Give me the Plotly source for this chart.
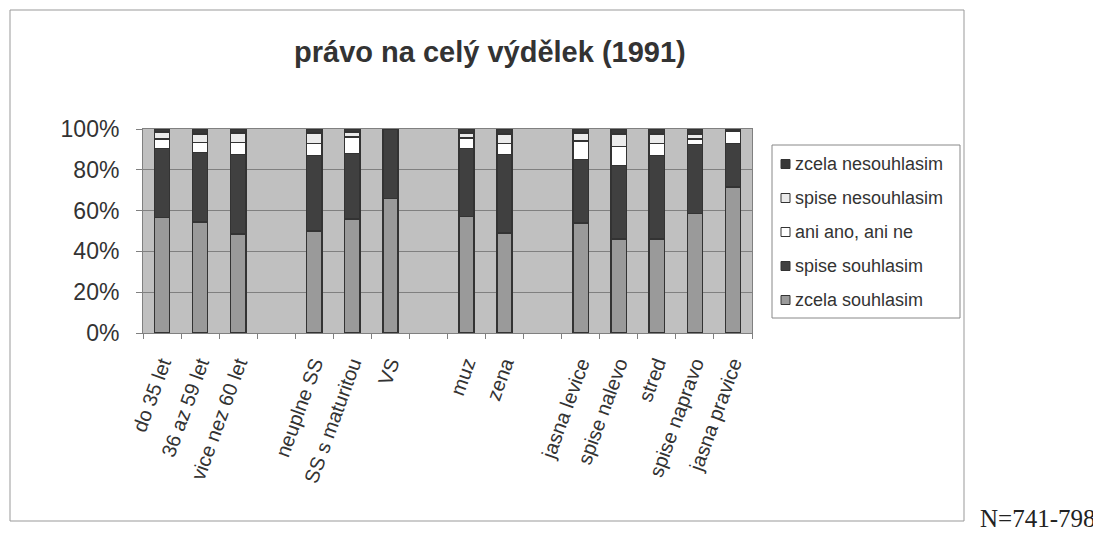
import plotly.graph_objects as go

categories = ["do 35 let", "36 az 59 let", "vice nez 60 let", " ",
              "neuplne SS", "SS s maturitou", "VS", "  ",
              "muz", "zena", "   ",
              "jasna levice", "spise nalevo", "stred", "spise napravo", "jasna pravice"]

zcela_souhlasim    = [56.5, 54.5, 48.5, None, 50.0, 56.0, 66.0, None, 57.0, 49.0, None, 54.0, 46.0, 46.0, 58.5, 71.5]
spise_souhlasim    = [34.0, 34.0, 39.0, None, 37.0, 32.0, 34.0, None, 33.5, 38.5, None, 31.0, 36.0, 41.0, 34.0, 21.5]
ani_ano_ani_ne     = [4.5, 5.0, 6.0, None, 6.0, 8.0, 0.0, None, 5.0, 5.5, None, 9.0, 9.5, 6.0, 2.5, 6.0]
spise_nesouhlasim  = [3.5, 4.0, 4.5, None, 5.0, 2.5, 0.0, None, 2.5, 4.5, None, 4.0, 6.0, 4.5, 2.5, 0.5]
zcela_nesouhlasim  = [1.5, 2.5, 2.0, None, 2.0, 1.5, 0.0, None, 2.0, 2.5, None, 2.0, 2.5, 2.5, 2.5, 0.5]

series_names = ["zcela souhlasim", "spise souhlasim", "ani ano, ani ne",
                "spise nesouhlasim", "zcela nesouhlasim"]
series_values = [zcela_souhlasim, spise_souhlasim, ani_ano_ani_ne,
                 spise_nesouhlasim, zcela_nesouhlasim]
series_colors = ["#9a9a9a", "#404040", "#ffffff", "#ebebeb", "#383838"]

y_ticks = [0, 20, 40, 60, 80, 100]
y_labels = ["0%", "20%", "40%", "60%", "80%", "100%"]

title_text = "právo na celý výdělek (1991)"
note_text = "N=741-798"

fig = go.Figure()
for name, vals, col in zip(series_names, series_values, series_colors):
    fig.add_trace(go.Bar(
        x=categories, y=vals, name=name, width=0.4,
        marker=dict(color=col, line=dict(color="#333333", width=1.5)),
        showlegend=False,
    ))

# page geometry (reference pixel coordinates); the page body has an 8px margin
OFF = 8
W, H = 1101, 533
L, R, T, B = 143, 752, 129, 333
pw, ph = R - L, B - T

def px(x):
    return (x - L) / pw

def py(y):
    return (B - y) / ph

shapes = [
    dict(type="rect", xref="paper", yref="paper",
         x0=px(10), x1=px(964), y0=py(521), y1=py(10),
         line=dict(color="#999999", width=1), fillcolor="rgba(0,0,0,0)", layer="below"),
    # legend box
    dict(type="rect", xref="paper", yref="paper",
         x0=px(772), x1=px(960), y0=py(318), y1=py(145),
         line=dict(color="#888888", width=1), fillcolor="white", layer="above"),
]
annotations = [
    dict(text="<b>" + title_text + "</b>", xref="paper", yref="paper",
         x=px(490), y=py(52), xanchor="center", yanchor="middle", showarrow=False,
         font=dict(size=29, color="#333333", family="Liberation Sans, Arial, sans-serif")),
    dict(text=note_text, xref="paper", yref="paper",
         x=px(1037), y=py(518), xanchor="center", yanchor="middle", showarrow=False,
         font=dict(size=25, color="#222222", family="Liberation Serif, Times New Roman, serif")),
]

# manual legend (reversed order: top item is last series)
row_y = [164, 198, 232, 266, 300]
for k, idx in enumerate(reversed(range(len(series_names)))):
    cy = row_y[k]
    shapes.append(dict(type="rect", xref="paper", yref="paper",
                       x0=px(781), x1=px(790), y0=py(cy + 4.5), y1=py(cy - 4.5),
                       line=dict(color="#333333", width=1), fillcolor=series_colors[idx],
                       layer="above"))
    annotations.append(dict(text=series_names[idx], xref="paper", yref="paper",
                            x=px(793), y=py(cy), xanchor="left", yanchor="middle",
                            showarrow=False,
                            font=dict(size=18, color="#333333",
                                      family="Liberation Sans, Arial, sans-serif")))

fig.update_layout(
    width=W - OFF, height=H - OFF, autosize=False,
    margin=dict(l=L - OFF, r=W - R, t=T - OFF, b=H - B, pad=0),
    barmode="stack",
    paper_bgcolor="white",
    plot_bgcolor="#c0c0c0",
    font=dict(family="Liberation Sans, Arial, sans-serif", color="#333333"),
    showlegend=False,
    xaxis=dict(
        type="category", categoryorder="array", categoryarray=categories,
        tickangle=-70, tickfont=dict(size=20, color="#333333"),
        ticks="outside", tickson="boundaries", ticklen=5, tickcolor="#808080",
        ticklabelstandoff=10,
        showline=True, linecolor="#808080", mirror=True, showgrid=False,
    ),
    yaxis=dict(
        range=[0, 100], tickvals=y_ticks, ticktext=y_labels,
        tickfont=dict(size=23, color="#333333"),
        ticks="outside", ticklen=6, tickcolor="#808080",
        ticklabelstandoff=12,
        showline=True, linecolor="#808080", mirror=True,
        showgrid=True, gridcolor="#808080", gridwidth=1, zeroline=False,
    ),
    annotations=annotations,
    shapes=shapes,
)

fig.write_html("out.html")
